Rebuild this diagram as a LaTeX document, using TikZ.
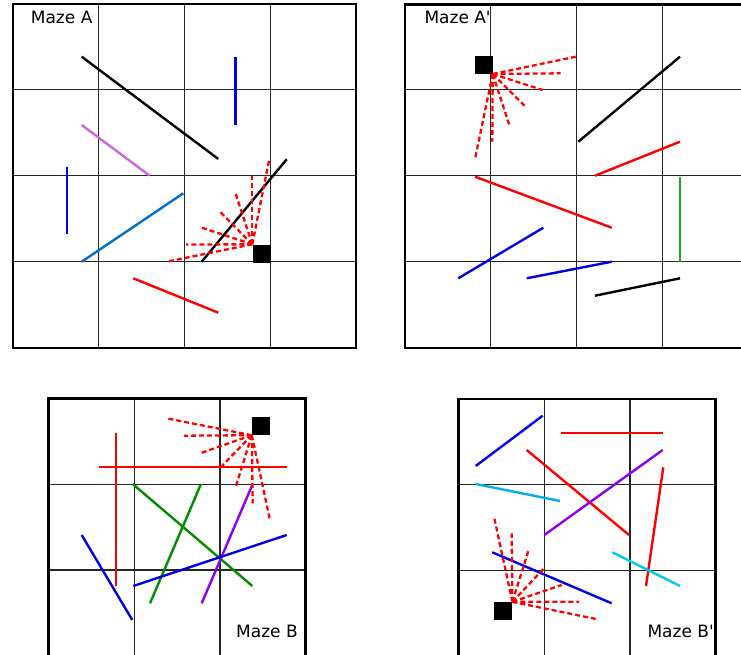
\documentclass[tikz,border=0pt]{standalone}
\usepackage{fontspec}
\newfontfamily\mazefont{DejaVu Sans}
\usetikzlibrary{positioning}
\definecolor{WallBlue}{RGB}{0,0,225}
\definecolor{SkyBlue}{RGB}{0,112,204}
\definecolor{Orchid}{RGB}{204,102,221}
\definecolor{LeafGreen}{RGB}{0,140,0}
\definecolor{LimeGreen}{RGB}{30,170,30}
\definecolor{Violet}{RGB}{140,0,240}
\definecolor{Cyan}{RGB}{0,175,235}
\definecolor{LightCyan}{RGB}{0,200,230}
\tikzset{
  frame/.style={draw=black,line width=2.8pt},
  gridline/.style={draw=black!85,line width=1.1pt},
  wall/.style={line width=2.4pt},
  ray/.style={draw=red,line width=2.3pt,dash pattern=on 5pt off 3pt},
  robot/.style={rectangle,fill=black,inner sep=0pt,minimum size=18pt},
  title/.style={font=\mazefont\fontsize{17}{20}\selectfont,inner sep=0pt,anchor=base west},
}

\begin{document}
\begin{tikzpicture}[x=1pt,y=-1pt]
\useasboundingbox (0,0) rectangle (741,654);

% Maze A
\foreach \k in {1,2,3}{
  \draw[gridline] ({13+85.75*\k},4) -- ({13+85.75*\k},348);
  \draw[gridline] (13,{4+85.75*\k}) -- (356,{4+85.75*\k});
}
\draw[wall,black] (81.7,56.7) -- (218.3,159);
\draw[wall,WallBlue] (235.3,56.7) -- (235.3,125);
\draw[wall,Orchid] (81.7,125) -- (149.7,175.7);
\draw[wall,WallBlue] (66.7,166.7) -- (66.7,234.3);
\draw[wall,SkyBlue] (81.7,261.7) -- (183.3,193.3);
\draw[wall,black] (201.7,261.7) -- (286.7,159.3);
\draw[wall,red] (133.3,278.3) -- (218.3,312.7);
\node[robot] (botA) at (261.5,253.5) {};
\foreach \x/\y in {166.7/261.7,186/244.5,201.7/227.7,220/211.7,235.5/193.3,252.3/176,269.3/159.3}
  \draw[ray] (botA.north west) -- (\x,\y);
\draw[frame] (13,4) rectangle (356,348);
\node[title] (titleA) at (30.7,23.3) {Maze A};

% Maze A'
\foreach \k in {1,2,3}{
  \draw[gridline] ({405+85.75*\k},4.5) -- ({405+85.75*\k},348);
  \draw[gridline] (405,{4+85.75*\k}) -- (748,{4+85.75*\k});
}
\draw[wall,black] (578.3,141.7) -- (680,56.7);
\draw[wall,red] (595,175.7) -- (680,141.7);
\draw[wall,red] (475,176.7) -- (611.7,227.7);
\draw[wall,LimeGreen] (680,176.7) -- (680,261.7);
\draw[wall,WallBlue] (458.3,278.3) -- (543.3,227.7);
\draw[wall,WallBlue] (526.7,278.3) -- (611.7,261.7);
\draw[wall,black] (595,295.7) -- (680,278.3);
\node[robot] (botAp) at (483.5,64.8) {};
\foreach \x/\y in {575.7/56.7,560.7/73.3,542.7/90,526/107.3,509.3/125,492.3/141.7,475/159}
  \draw[ray] (botAp.south east) -- (\x,\y);
\draw[frame] (405,4.5) rectangle (748,348);
\node[title] (titleAp) at (424.3,23.3) {Maze A'};

% Maze B
\foreach \k in {1,2}{
  \draw[gridline] ({48.5+85.75*\k},398.5) -- ({48.5+85.75*\k},656);
  \draw[gridline] (48.5,{398.5+85.75*\k}) -- (305.5,{398.5+85.75*\k});
}
\draw[wall,red] (115.7,433.3) -- (115.7,586);
\draw[wall,red] (99,466.7) -- (286.7,466.7);
\draw[wall,LeafGreen] (132.7,484) -- (252.3,586);
\draw[wall,LeafGreen] (201,484) -- (150,603.3);
\draw[wall,Violet] (252.7,484) -- (201.7,603.3);
\draw[wall,WallBlue] (81.7,535) -- (132.3,620);
\draw[wall,WallBlue] (133.3,586) -- (286.7,535);
\node[robot] (botB) at (261,426) {};
\foreach \x/\y in {166.7/418.3,184/435.7,201.7/452.7,219/469,236/486,252.7/503.3,270/520}
  \draw[ray] (botB.south west) -- (\x,\y);
\draw[frame] (48.5,398.5) rectangle (305.5,656);
\node[title] (titleB) at (236,637.7) {Maze B};

% Maze B'
\foreach \k in {1,2}{
  \draw[gridline] ({458.5+85.75*\k},399) -- ({458.5+85.75*\k},656);
  \draw[gridline] (458.5,{399+85.75*\k}) -- (715.5,{399+85.75*\k});
}
\draw[wall,WallBlue] (475.7,466) -- (542.7,415.7);
\draw[wall,red] (561,432.7) -- (662.7,432.7);
\draw[wall,red] (526.7,450) -- (629,535);
\draw[wall,Violet] (544.3,535) -- (662.7,450);
\draw[wall,Cyan] (475.7,484) -- (560,501);
\draw[wall,red] (663.3,467.3) -- (646,586);
\draw[wall,LightCyan] (612.3,552.3) -- (680,586);
\draw[wall,WallBlue] (492.3,552.3) -- (611.7,603.3);
\node[robot] (botBp) at (503.2,611) {};
\foreach \x/\y in {494/516.7,511.7/533.3,528.3/551,544/568.3,561.7/585,579/601.7,596/619}
  \draw[ray] (botBp.north east) -- (\x,\y);
\draw[frame] (458.5,399) rectangle (715.5,656);
\node[title] (titleBp) at (647.3,637.7) {Maze B'};
\end{tikzpicture}
\end{document}
